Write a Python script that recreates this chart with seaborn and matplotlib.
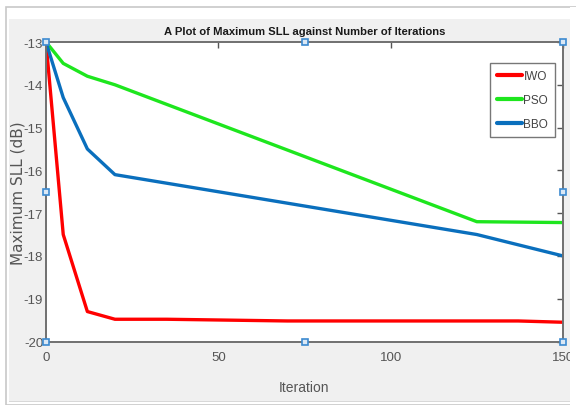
import numpy as np
import pandas as pd
import matplotlib
matplotlib.use("Agg")
import matplotlib.pyplot as plt
import seaborn as sns
from matplotlib.patches import Rectangle

# ---- data ----
iwo_x = [0, 5, 12, 20, 35, 70, 137, 150]
iwo_y = [-13.0, -17.5, -19.3, -19.48, -19.48, -19.52, -19.52, -19.55]
pso_x = [0, 5, 12, 20, 125, 150]
pso_y = [-13.0, -13.5, -13.8, -14.0, -17.2, -17.22]
bbo_x = [0, 5, 12, 20, 125, 150]
bbo_y = [-13.0, -14.3, -15.5, -16.1, -17.5, -18.0]
series_names = ["IWO", "PSO", "BBO"]
x_ticks = [0, 50, 100, 150]
y_ticks = [-20, -19, -18, -17, -16, -15, -14, -13]

df = pd.concat([
    pd.DataFrame({"Iteration": iwo_x, "SLL": iwo_y, "Algorithm": "IWO"}),
    pd.DataFrame({"Iteration": pso_x, "SLL": pso_y, "Algorithm": "PSO"}),
    pd.DataFrame({"Iteration": bbo_x, "SLL": bbo_y, "Algorithm": "BBO"}),
], ignore_index=True)

sns.set_theme(style="white")
plt.rcParams["font.family"] = ["Liberation Sans Narrow", "Liberation Sans", "DejaVu Sans"]

fig = plt.figure(figsize=(5.76, 4.06), dpi=100)
fig.patch.set_facecolor("white")
W, H = 576.0, 406.0
# outer border line and grey panel (screenshot frame)
fig.add_artist(Rectangle((6 / W, 0), 1.0, (H - 8) / H, transform=fig.transFigure,
                         facecolor="white", edgecolor="#c8c8c8", lw=1.2, zorder=-3))
fig.add_artist(Rectangle((9 / W, 4 / H), (570 - 9) / W, (H - 20 - 4) / H, transform=fig.transFigure,
                         facecolor="#f0f0f0", edgecolor="none", zorder=-2))
fig.add_artist(Rectangle((9 / W, 3 / H), (570 - 9) / W, 1.2 / H, transform=fig.transFigure,
                         facecolor="#d8d8d8", edgecolor="none", zorder=-2))

ax = fig.add_axes([46 / W, 1 - 342.5 / H, (563 - 46) / W, (342.5 - 43) / H])
ax.set_facecolor("white")

palette = {"IWO": "#ff0000", "PSO": "#1ee61e", "BBO": "#0a6fbd"}
sns.lineplot(data=df, x="Iteration", y="SLL", hue="Algorithm", hue_order=series_names,
             palette=palette, sort=False, estimator=None, lw=2.4, ax=ax)

ax.set_xlim(0, 150)
ax.set_ylim(-20, -13)
ax.set_xticks(x_ticks)
ax.set_yticks(y_ticks)
ax.set_xticklabels([str(v) for v in x_ticks])
ax.set_yticklabels([str(v) for v in y_ticks])
ax.tick_params(direction="in", length=4, width=1, colors="#555555", labelcolor="#555555",
               labelsize=9.5, top=True, right=True, pad=7)
ax.tick_params(axis="y", pad=2)
for s in ax.spines.values():
    s.set_color("#707070")
    s.set_linewidth(1.4)

ax.set_title("A Plot of Maximum SLL against Number of Iterations", fontsize=8.1,
             fontweight="bold", color="#1a1a1a", pad=6)
ax.set_xlabel("Iteration", fontsize=10, color="#555555", labelpad=12)
ax.set_ylabel("Maximum SLL (dB)", fontsize=11, color="#555555",
              family=["DejaVu Sans"])
ax.yaxis.set_label_coords(-0.040, 0.5)

leg = ax.legend(loc="upper right", bbox_to_anchor=(0.985, 0.93), fontsize=8.5,
                frameon=True, fancybox=False, handlelength=2.1, handletextpad=0.15,
                borderpad=0.6, labelspacing=1.0, borderaxespad=0.0)
leg.get_frame().set_edgecolor("#555555")
leg.get_frame().set_linewidth(1.0)
for t in leg.get_texts():
    t.set_color("#444444")
for l in leg.get_lines():
    l.set_linewidth(3)

# selection handles of the edited figure (decoration)
hx = [0, 0.5, 1, 0, 1, 0, 0.5, 1]
hy = [0, 0, 0, 0.5, 0.5, 1, 1, 1]
ax.plot(hx, hy, ls="none", marker="s", ms=5, mfc="#dbe8f5", mec="#3c8ad0", mew=1.2,
        transform=ax.transAxes, clip_on=False, zorder=10)

# right-hand cut of the screenshot
fig.add_artist(Rectangle((570 / W, 0), 6 / W, 1 - 8 / H, transform=fig.transFigure,
                         facecolor="white", edgecolor="none", zorder=20))

fig.savefig("out.png", dpi=100)
